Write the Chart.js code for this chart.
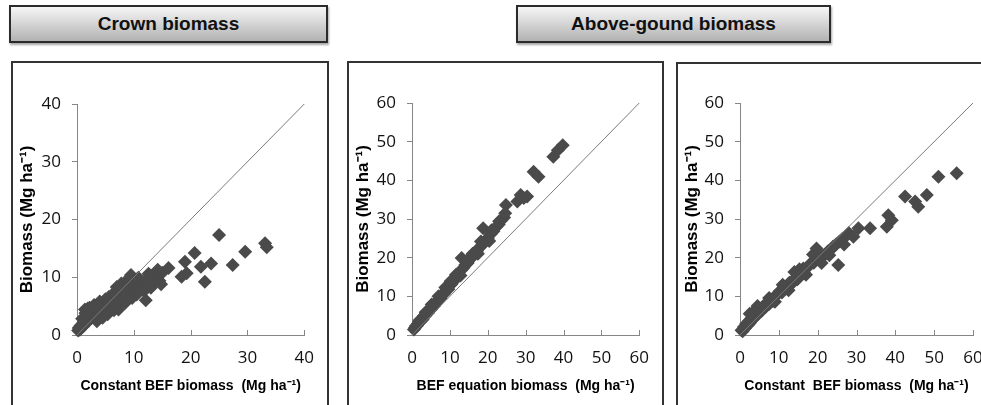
<!DOCTYPE html>
<html>
<head>
<meta charset="utf-8">
<script src="https://cdn.jsdelivr.net/npm/chart.js@4.4.1/dist/chart.umd.min.js"></script>
<style>
  body { margin: 0; width: 981px; height: 405px; overflow: hidden; background: #fff; position: relative; font-family: "Liberation Sans", Arial, sans-serif; }
  .btn { position: absolute; top: 5px; height: 34px; border: 2px solid #2b2b2b; background: linear-gradient(#f6f6f6, #b2b2b2); box-shadow: 1px 2px 2px rgba(0,0,0,.35); font-weight: bold; font-size: 19px; color: #111; text-align: center; line-height: 34px; }
  .frame { position: absolute; border: 2px solid #333; height: 400px; }
  canvas { position: absolute; }
</style>
</head>
<body>
<div class="btn" style="left:9px; width:315px;">Crown biomass</div>
<div class="btn" style="left:516px; width:311px;">Above-gound biomass</div>

<div class="frame" style="left:11px; top:61px; width:314px;"></div>
<div class="frame" style="left:347px; top:61px; width:313px;"></div>
<div class="frame" style="left:676px; top:62px; width:400px;"></div>

<canvas id="crown" width="314" height="342" style="left:13px; top:63px;"></canvas>
<canvas id="agbEq" width="313" height="342" style="left:349px; top:63px;"></canvas>
<canvas id="agbConst" width="320" height="342" style="left:678px; top:63px;"></canvas>

<script>
// crown biomass vs constant BEF biomass
const crownX = [0.2,0.3,0.5,0.6,0.8,1.0,1.1,1.3,1.5,1.6,1.8,2.0,2.1,2.3,2.5,2.7,2.9,3.1,3.3,3.6,
  3.8,4.1,4.3,4.6,4.9,5.2,5.5,5.8,6.0,6.3,6.6,6.9,7.2,7.5,7.8,8.1,8.4,8.7,9.0,9.2,
  9.5,9.8,10.1,10.4,10.8,11.1,11.5,11.9,12.1,12.4,12.8,13.2,13.6,14.0,14.5,15.0,16.1,18.4,19.0,19.3,
  20.7,21.8,22.5,23.6,25.0,27.4,29.6,33.1,33.4,1.4,2.2,3.0,5.6,6.2,7.8,8.9,9.5,
  3.5,4.5,5.4,6.5,7.0,7.3,8.5,9.7,10.5,11.8,13.0,14.8,0.9,1.9,4.0,5.0,7.0,10.8,12.6,14.2];
const crownY = [0.8,1.2,0.9,1.6,1.3,2.0,1.5,2.4,3.8,2.1,2.8,3.2,2.5,3.6,2.9,3.4,4.0,3.1,3.7,3.5,
  4.2,3.9,4.6,4.1,4.8,4.4,5.3,4.7,5.9,5.1,6.3,5.5,6.7,5.8,7.4,6.2,7.9,6.8,8.6,7.3,
  9.2,7.6,8.8,7.9,9.5,8.3,9.1,8.7,6.0,9.8,8.5,10.2,9.0,10.6,9.4,10.8,11.6,10.1,12.7,10.7,
  14.2,11.8,9.2,12.4,17.3,12.1,14.4,15.9,15.2,4.4,4.7,5.2,6.6,7.0,8.9,9.6,10.4,
  2.4,3.0,3.6,4.3,5.0,4.4,5.6,6.4,7.0,7.6,8.2,8.8,2.8,4.6,5.8,6.2,8.3,9.9,10.6,11.3];

// above-ground biomass vs BEF equation biomass
const agbEqX = [0.5,0.8,1.0,1.3,1.6,1.9,2.2,2.5,2.8,3.1,3.5,3.8,4.2,4.6,5.0,5.4,5.8,6.2,6.7,7.1,
  7.6,8.0,8.5,9.0,9.4,9.9,10.4,10.9,11.4,11.9,12.4,13.1,13.1,13.6,14.1,14.7,15.3,15.9,16.5,17.1,
  17.8,18.5,18.8,19.3,20.0,20.8,21.5,22.2,22.9,23.6,24.3,24.8,24.6,27.8,28.7,29.5,30.4,32.1,33.4,37.3,
  38.5,39.8,2.0,3.6,5.2,7.0,8.8,10.2,11.6,14.4,16.0,18.2,21.0,23.0,9.6,12.8,17.4,20.4];
const agbEqY = [1.4,1.9,2.3,2.4,3.0,3.4,3.5,4.1,4.0,4.9,5.0,5.6,5.7,6.5,6.6,7.3,7.5,8.1,8.6,9.2,
  9.5,10.4,10.7,11.6,11.8,12.9,13.1,14.0,14.3,15.2,15.6,16.9,19.9,17.4,18.2,18.6,19.6,20.2,21.1,21.5,
  22.6,23.2,27.6,24.3,25.0,26.1,26.8,27.9,28.6,29.7,30.4,33.6,31.5,34.5,36.2,35.4,35.8,42.2,40.9,46.1,
  47.8,49.1,3.8,5.9,7.9,10.0,12.3,13.9,15.6,19.2,21.0,24.2,27.1,29.4,11.8,15.4,21.0,24.3];

// above-ground biomass vs constant BEF biomass
const agbConstX = [0.4,0.7,1.0,1.3,1.6,2.0,2.3,2.6,3.0,3.3,3.7,4.0,4.4,4.8,5.2,5.6,6.0,6.5,7.0,7.5,
  8.0,8.5,9.0,9.6,10.2,10.8,11.4,12.0,12.7,13.4,14.1,14.8,15.3,15.6,16.3,16.5,17.2,17.8,18.3,19.0,
  19.7,19.9,20.5,21.2,21.9,22.6,23.3,24.0,24.8,25.3,25.6,26.4,27.2,28.0,29.2,30.5,33.5,37.8,38.2,39.1,
  42.5,45.1,45.9,48.1,51.1,55.8,2.5,4.5,7.5,11.0,14.0,12.5,17.0,21.0,23.0,9.0,18.8,26.8];
const agbConstY = [1.2,1.0,2.1,1.8,2.9,2.5,3.6,3.2,4.4,5.8,4.5,6.2,5.1,6.0,6.6,6.3,7.5,7.2,8.3,8.0,
  9.1,8.8,10.0,10.4,11.3,11.0,12.4,12.1,13.5,13.3,14.6,14.4,17.0,15.6,17.2,16.1,17.3,18.0,18.6,18.7,
  22.4,19.8,19.6,20.4,20.8,21.6,22.0,22.9,23.5,18.1,24.2,24.9,25.5,26.4,25.4,27.6,27.6,28.0,31.0,29.7,
  35.8,34.5,33.2,36.2,40.9,41.8,5.5,7.5,9.6,13.0,16.3,11.6,15.6,18.6,20.6,8.6,20.8,23.4];

const axisColor = '#868686';

// Excel style x tick marks pointing up into the plot
const innerTicks = {
  id: 'innerTicks',
  beforeDatasetsDraw(chart) {
    const sx = chart.scales.x;
    const ctx = chart.ctx;
    ctx.save();
    ctx.strokeStyle = axisColor;
    ctx.lineWidth = 1;
    sx.ticks.forEach(t => {
      const px = Math.round(sx.getPixelForValue(t.value)) + 0.5;
      ctx.beginPath();
      ctx.moveTo(px, sx.top);
      ctx.lineTo(px, sx.top - 5);
      ctx.stroke();
    });
    ctx.restore();
  }
};

function buildChart(id, xs, ys, axisMax, xTitle, yWidth, padTop, padRight) {
  const pts = xs.map((x, i) => ({ x: x, y: ys[i] }));
  return new Chart(document.getElementById(id), {
    type: 'scatter',
    data: {
      datasets: [
        { type: 'line', data: [{ x: 0, y: 0 }, { x: axisMax, y: axisMax }], borderColor: '#7a7a7a', borderWidth: 1, pointRadius: 0, order: 0, clip: false },
        { data: pts, pointStyle: 'rectRot', pointRadius: 7, backgroundColor: '#4a4a4a', borderWidth: 0, order: 1, clip: false }
      ]
    },
    options: {
      responsive: false,
      animation: false,
      events: [],
      layout: { padding: { top: padTop, right: padRight, left: 0, bottom: 0 } },
      plugins: { legend: { display: false }, tooltip: { enabled: false } },
      scales: {
        x: {
          type: 'linear', min: 0, max: axisMax,
          ticks: { stepSize: 10, padding: 13, color: '#111', font: { family: 'Open Sans', size: 17 } },
          grid: { display: false, drawTicks: false },
          border: { color: axisColor },
          title: { display: true, text: xTitle, color: '#000', padding: { top: 0, bottom: 10 }, font: { family: 'Liberation Sans', size: 14, weight: 'bold' } },
          afterFit: s => { s.height = 70; }
        },
        y: {
          type: 'linear', min: 0, max: axisMax,
          ticks: { stepSize: 10, padding: 11, color: '#111', font: { family: 'Open Sans', size: 17 } },
          grid: { drawOnChartArea: false, tickLength: 5, color: axisColor },
          border: { color: axisColor },
          title: { display: true, text: 'Biomass (Mg ha⁻¹)', color: '#000', padding: { top: 4, bottom: 0 }, font: { family: 'Liberation Sans', size: 17, weight: 'bold' } },
          afterFit: s => { s.width = yWidth; }
        }
      }
    },
    plugins: [innerTicks]
  });
}

buildChart('crown', crownX, crownY, 40, 'Constant BEF biomass  (Mg ha⁻¹)', 64, 41, 19);
buildChart('agbEq', agbEqX, agbEqY, 60, 'BEF equation biomass  (Mg ha⁻¹)', 63, 40, 17);
buildChart('agbConst', agbConstX, agbConstY, 60, 'Constant  BEF biomass  (Mg ha⁻¹)', 62, 40, 25);
</script>
</body>
</html>
